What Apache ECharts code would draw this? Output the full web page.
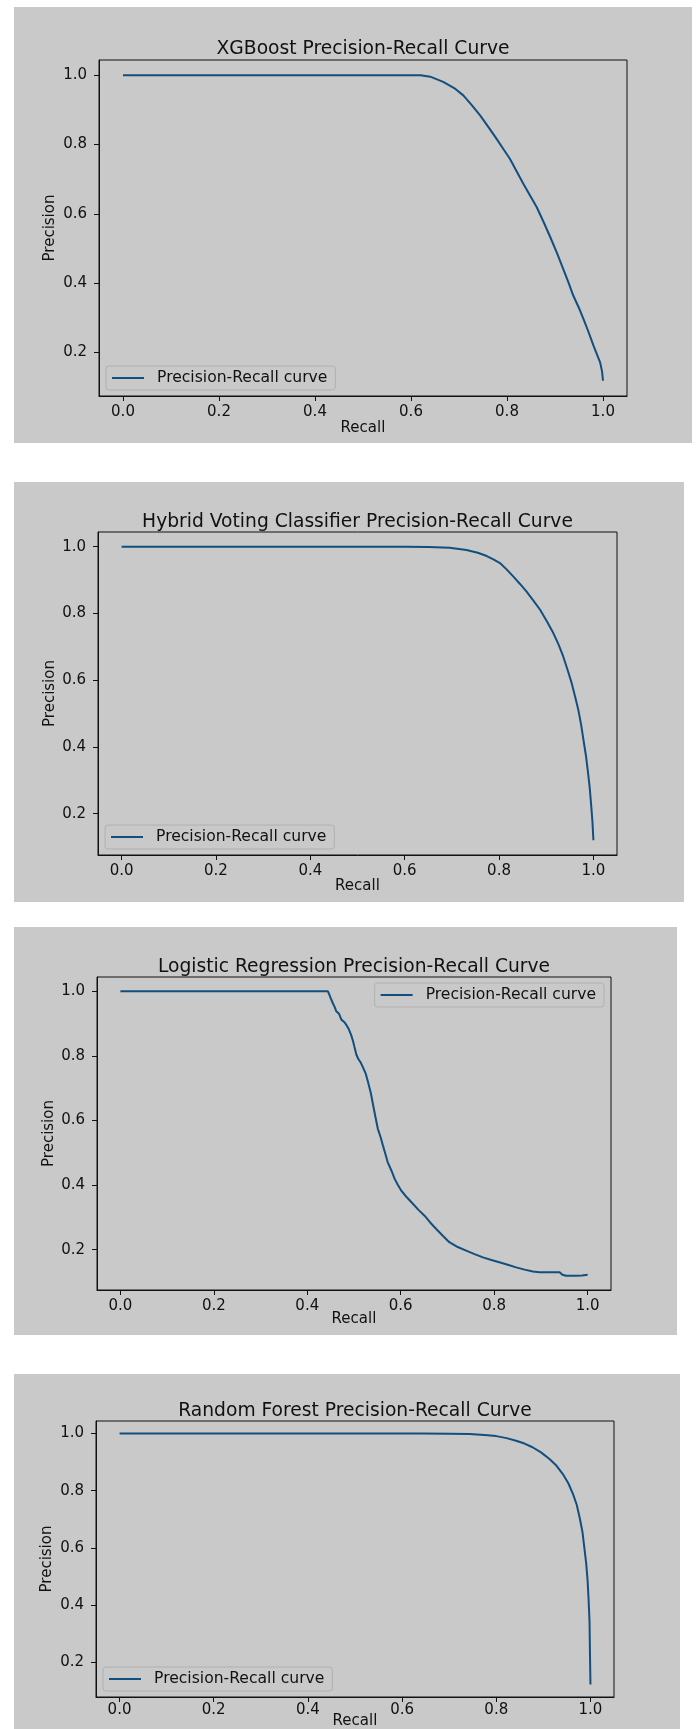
<!DOCTYPE html>
<html><head><meta charset="utf-8">
<script src="https://cdn.jsdelivr.net/npm/echarts@6/dist/echarts.min.js"></script>
<style>
html,body{margin:0;padding:0;background:#ffffff;width:698px;height:1729px;overflow:hidden}
.panel{position:absolute;left:14px;background:#c9c9c9}
</style></head><body>
<div id="c1" class="panel" style="top:7px;width:678px;height:436px"></div>
<div id="c2" class="panel" style="top:482px;width:670px;height:420px"></div>
<div id="c3" class="panel" style="top:927px;width:663px;height:408px"></div>
<div id="c4" class="panel" style="top:1374px;width:666px;height:355px"></div>
<script>
// ---- data ----
const seriesName = 'Precision-Recall curve';
const xTicks = [0, 0.2, 0.4, 0.6, 0.8, 1.0];
const yTicks = [0.2, 0.4, 0.6, 0.8, 1.0];
const titles = [
  'XGBoost Precision-Recall Curve',
  'Hybrid Voting Classifier Precision-Recall Curve',
  'Logistic Regression Precision-Recall Curve',
  'Random Forest Precision-Recall Curve'
];
const xgbRecall    = [0, 0.62, 0.64, 0.667, 0.69, 0.709, 0.727, 0.744, 0.761, 0.778, 0.792, 0.806, 0.82, 0.834, 0.848, 0.862, 0.876, 0.89, 0.904, 0.917, 0.928, 0.938, 0.949, 0.959, 0.97, 0.98, 0.988, 0.994, 0.998, 1.0];
const xgbPrecision = [1.0, 1.0, 0.996, 0.981, 0.963, 0.942, 0.913, 0.884, 0.851, 0.817, 0.788, 0.759, 0.723, 0.687, 0.653, 0.619, 0.577, 0.533, 0.487, 0.441, 0.402, 0.364, 0.331, 0.297, 0.258, 0.220, 0.192, 0.171, 0.145, 0.118];
const hybRecall    = [0, 0.6, 0.65, 0.695, 0.731, 0.755, 0.774, 0.788, 0.802, 0.816, 0.83, 0.844, 0.858, 0.872, 0.887, 0.901, 0.915, 0.926, 0.936, 0.945, 0.954, 0.961, 0.968, 0.974, 0.979, 0.984, 0.988, 0.992, 0.995, 0.998, 1.0];
const hybPrecision = [1.0, 1.0, 0.999, 0.997, 0.99, 0.982, 0.972, 0.962, 0.951, 0.932, 0.911, 0.889, 0.866, 0.84, 0.811, 0.777, 0.741, 0.707, 0.671, 0.632, 0.591, 0.552, 0.511, 0.466, 0.42, 0.375, 0.33, 0.28, 0.23, 0.175, 0.12];
const lrRecall     = [0, 0.444, 0.447, 0.449, 0.452, 0.455, 0.459, 0.462, 0.468, 0.473, 0.479, 0.484, 0.489, 0.494, 0.498, 0.501, 0.505, 0.509, 0.514, 0.519, 0.525, 0.53, 0.536, 0.541, 0.546, 0.551, 0.557, 0.562, 0.567, 0.572, 0.58, 0.587, 0.594, 0.601, 0.613, 0.626, 0.638, 0.651, 0.663, 0.676, 0.69, 0.704, 0.722, 0.74, 0.758, 0.776, 0.794, 0.811, 0.829, 0.847, 0.865, 0.883, 0.897, 0.92, 0.94, 0.946, 0.954, 0.965, 0.975, 0.988, 1.0];
const lrPrecision  = [1.0, 1.0, 0.99, 0.985, 0.972, 0.962, 0.95, 0.938, 0.93, 0.912, 0.905, 0.895, 0.882, 0.864, 0.845, 0.827, 0.804, 0.791, 0.78, 0.765, 0.745, 0.719, 0.685, 0.647, 0.61, 0.574, 0.548, 0.522, 0.497, 0.471, 0.445, 0.419, 0.4, 0.383, 0.362, 0.342, 0.323, 0.305, 0.284, 0.264, 0.243, 0.223, 0.208, 0.197, 0.186, 0.176, 0.168, 0.161, 0.153, 0.145, 0.138, 0.132, 0.13, 0.13, 0.13, 0.122, 0.119, 0.119, 0.119, 0.12, 0.122];
const rfRecall     = [0, 0.64, 0.7, 0.743, 0.775, 0.8, 0.822, 0.842, 0.86, 0.877, 0.895, 0.913, 0.928, 0.941, 0.953, 0.963, 0.971, 0.977, 0.983, 0.987, 0.991, 0.994, 0.996, 0.998, 0.999, 1.0];
const rfPrecision  = [1.0, 1.0, 0.9995, 0.998, 0.995, 0.991, 0.984, 0.975, 0.965, 0.952, 0.934, 0.911, 0.887, 0.859, 0.826, 0.788, 0.75, 0.706, 0.656, 0.601, 0.545, 0.484, 0.42, 0.344, 0.227, 0.122];

// ---- layout (positions / styles) ----
const FONT = 'DejaVu Sans';
const INK = '#111111';
const LINE = '#124f7e';
const layouts = [
  {id:'c1', w:678, h:436, grid:{left:85, top:53, width:528, height:336}, titleTop:33, legend:'ll', xGap:24.5, xMargin:9, yGap:41.5},
  {id:'c2', w:670, h:420, grid:{left:84, top:50, width:519, height:323}, titleTop:31, legend:'ll', xGap:23.5, xMargin:9, yGap:40.5},
  {id:'c3', w:663, h:408, grid:{left:83, top:50, width:514, height:313}, titleTop:31, legend:'ur', xGap:21.5, xMargin:9, yGap:40.5},
  {id:'c4', w:666, h:355, grid:{left:82, top:47, width:518, height:276}, titleTop:28, legend:'ll', xGap:16.5, xMargin:6, yGap:41.5}
];
const recalls = [xgbRecall, hybRecall, lrRecall, rfRecall];
const precisions = [xgbPrecision, hybPrecision, lrPrecision, rfPrecision];

layouts.forEach((L, i) => {
  const chart = echarts.init(document.getElementById(L.id), null, {renderer:'canvas'});
  const rec = recalls[i], prec = precisions[i];
  const data = rec.map((r, k) => [r, prec[k]]);
  const pMin = Math.min(...prec), pMax = Math.max(...prec);
  const pad = 0.05 * (pMax - pMin);
  const g = L.grid;
  const legendPos = L.legend === 'll'
    ? {left: g.left + 7, bottom: L.h - (g.top + g.height) + 6}
    : {right: L.w - (g.left + g.width) + 7, top: g.top + 6};
  const tickLabel = {fontFamily: FONT, fontSize: 15, color: INK};
  chart.setOption({
    animation: false,
    backgroundColor: 'transparent',
    title: {
      text: titles[i], left: g.left + g.width / 2, top: L.titleTop, textAlign: 'center', padding: 0,
      textStyle: {fontFamily: FONT, fontSize: 18.7, fontWeight: 'normal', color: INK}
    },
    grid: Object.assign({show: true, borderColor: INK, borderWidth: 1, backgroundColor: 'transparent', containLabel: false, outerBoundsMode: 'none'}, g),
    legend: Object.assign({
      data: [{name: seriesName, icon: 'rect'}], itemWidth: 32, itemHeight: 2, padding: [4, 8, 4, 6],
      backgroundColor: '#c9c9c9', borderColor: '#b0b0b0', borderWidth: 1, borderRadius: 3,
      textStyle: Object.assign({}, tickLabel, {fontSize: 15.6, padding: [0, 0, 0, 8]})
    }, legendPos),
    xAxis: {
      type: 'value', min: -0.05, max: 1.05,
      name: 'Recall', nameLocation: 'middle', nameGap: L.xGap, nameMoveOverlap: false, nameTextStyle: tickLabel,
      axisLine: {show: true, onZero: false, lineStyle: {color: INK, width: 1}},
      axisTick: {show: true, inside: false, length: 5, customValues: xTicks, lineStyle: {color: INK}},
      axisLabel: {show: true, customValues: xTicks, margin: L.xMargin, formatter: v => v.toFixed(1), ...tickLabel},
      splitLine: {show: false}
    },
    yAxis: {
      type: 'value', min: pMin - pad, max: pMax + pad,
      name: 'Precision', nameLocation: 'middle', nameGap: L.yGap, nameMoveOverlap: false, nameTextStyle: tickLabel,
      axisLine: {show: true, onZero: false, lineStyle: {color: INK, width: 1}},
      axisTick: {show: true, inside: false, length: 5, customValues: yTicks, lineStyle: {color: INK}},
      axisLabel: {show: true, customValues: yTicks, margin: 12, formatter: v => v.toFixed(1), ...tickLabel},
      splitLine: {show: false}
    },
    series: [{
      name: seriesName, type: 'line', data: data, symbol: 'none', showSymbol: false,
      lineStyle: {color: LINE, width: 2}, itemStyle: {color: LINE}, smooth: false
    }]
  });
});
</script>
</body></html>
